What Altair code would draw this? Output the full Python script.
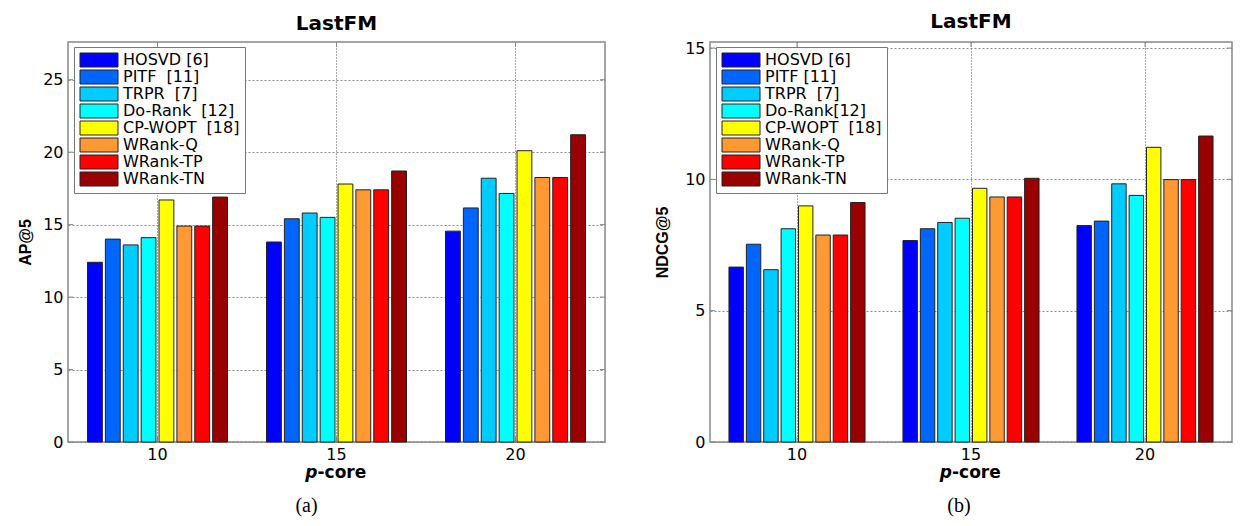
import altair as alt
import pandas as pd

groups = ["10", "15", "20"]
labels_a = ["HOSVD [6]", "PITF\u00a0 [11]", "TRPR\u00a0 [7]", "Do-Rank\u00a0 [12]",
            "CP-WOPT\u00a0 [18]", "WRank-Q", "WRank-TP", "WRank-TN"]
labels_b = ["HOSVD [6]", "PITF [11]", "TRPR\u00a0 [7]", "Do-Rank[12]",
            "CP-WOPT\u00a0 [18]", "WRank-Q", "WRank-TP", "WRank-TN"]
colors = ["#0000FF", "#0066FF", "#00CCFF", "#00FFFF", "#FFFF00", "#FF9933", "#FF0000", "#990000"]

# AP@5 per p-core group (10, 15, 20)
ap5_10 = [12.4, 14.0, 13.6, 14.1, 16.7, 14.9, 14.9, 16.9]
ap5_15 = [13.8, 15.4, 15.8, 15.5, 17.8, 17.4, 17.4, 18.7]
ap5_20 = [14.55, 16.15, 18.2, 17.15, 20.1, 18.25, 18.25, 21.2]
# NDCG@5 per p-core group
ndcg5_10 = [6.66, 7.53, 6.56, 8.12, 8.99, 7.88, 7.88, 9.12]
ndcg5_15 = [7.67, 8.12, 8.36, 8.52, 9.66, 9.33, 9.33, 10.04]
ndcg5_20 = [8.24, 8.41, 9.83, 9.39, 11.22, 9.99, 9.99, 11.65]

ap_ticks = [0, 5, 10, 15, 20, 25]
ndcg_ticks = [0, 5, 10, 15]
chart_title = "LastFM"
xtitle_parts = ["p", "-core"]
captions = ["(a)", "(b)"]

H = 400
# wide rectangle swatch: size 196 -> unit = 7px, spans 0..38px from entry start
SYMBOL = "M-1,-1L4.43,-1L4.43,1L-1,1Z"


def panel(vals_by_group, labels, ytitle, ymax, yticks, width, caption, cap_dx, tpad):
    rows = []
    for g, vals in zip(groups, vals_by_group):
        for lab, v in zip(labels, vals):
            rows.append({"core": g, "method": lab, "value": v})
    df = pd.DataFrame(rows)

    xscale = alt.Scale(domain=groups, paddingInner=0.218, paddingOuter=0.109)
    yscale = alt.Scale(domain=[0, ymax], nice=False, zero=True)

    bars = alt.Chart(df).mark_bar(stroke="#222", strokeWidth=1).encode(
        x=alt.X("core:N", sort=groups, scale=xscale,
                axis=alt.Axis(title=None, labelAngle=0, grid=True, gridDash=[1, 2],
                              gridColor="#444", gridOpacity=0.9, bandPosition=0.5,
                              ticks=False, domain=False, labelFont="DejaVu Sans",
                              labelFontSize=16, labelColor="black", labelPadding=4)),
        xOffset=alt.XOffset("method:N", sort=labels,
                            scale=alt.Scale(domain=labels, paddingInner=0.17, paddingOuter=0)),
        y=alt.Y("value:Q", scale=yscale,
                axis=alt.Axis(values=yticks, title=ytitle, grid=True, gridDash=[2, 2],
                              gridColor="#888", ticks=False, domain=False,
                              labelFont="DejaVu Sans", labelFontSize=16, labelColor="black",
                              labelPadding=5, titleFont="Liberation Sans", titleFontSize=16,
                              titleFontWeight="bold", titleColor="black", titlePadding=tpad)),
        color=alt.Color("method:N", sort=labels,
                        scale=alt.Scale(domain=labels, range=colors),
                        legend=alt.Legend(orient="none", legendX=6, legendY=5, title=None,
                                          symbolType=SYMBOL, symbolSize=196,
                                          labelFont="DejaVu Sans", labelFontSize=16,
                                          labelColor="black", padding=5, rowPadding=-4,
                                          strokeColor="#777", fillColor="white",
                                          labelOffset=28, symbolStrokeColor="#222",
                                          symbolStrokeWidth=1, symbolOpacity=1)),
    )

    ydf = pd.DataFrame({"value": yticks})
    yt_left = alt.Chart(ydf).mark_rule(color="#888").encode(
        y=alt.Y("value:Q"), x=alt.value(0), x2=alt.value(5))
    yt_right = alt.Chart(ydf).mark_rule(color="#888").encode(
        y=alt.Y("value:Q"), x=alt.value(width - 5), x2=alt.value(width))
    xdf = pd.DataFrame({"core": groups})
    xt_bot = alt.Chart(xdf).mark_rule(color="#888").encode(
        x=alt.X("core:N", sort=groups), y=alt.value(H - 5), y2=alt.value(H))
    xt_top = alt.Chart(xdf).mark_rule(color="#888").encode(
        x=alt.X("core:N", sort=groups), y=alt.value(0), y2=alt.value(5))

    p_txt = alt.Chart(pd.DataFrame({"t": [xtitle_parts[0]]})).mark_text(
        font="DejaVu Sans", fontSize=17, fontWeight="bold", fontStyle="italic",
        align="right", baseline="alphabetic", color="black").encode(
        text="t:N", x=alt.value(width / 2 - 19), y=alt.value(H + 36))
    core_txt = alt.Chart(pd.DataFrame({"t": [xtitle_parts[1]]})).mark_text(
        font="DejaVu Sans", fontSize=17, fontWeight="bold",
        align="left", baseline="alphabetic", color="black").encode(
        text="t:N", x=alt.value(width / 2 - 19), y=alt.value(H + 36))
    cap_txt = alt.Chart(pd.DataFrame({"t": [caption]})).mark_text(
        font="Liberation Serif", fontSize=20, align="center", baseline="alphabetic",
        color="black").encode(
        text="t:N", x=alt.value(width / 2 + cap_dx), y=alt.value(H + 70))

    return alt.layer(bars, yt_left, yt_right, xt_bot, xt_top, p_txt, core_txt, cap_txt).properties(
        width=width, height=H,
        title=alt.TitleParams(chart_title, font="DejaVu Sans", fontSize=20, fontWeight="bold",
                              color="black", anchor="middle", frame="group", offset=8),
    )


left = panel([ap5_10, ap5_15, ap5_20], labels_a, "AP@5", 27.6, ap_ticks, 537, captions[0], -30, 9)
right = panel([ndcg5_10, ndcg5_15, ndcg5_20], labels_b, "NDCG@5", 15.23, ndcg_ticks, 522, captions[1], -12, 14)

chart = alt.hconcat(left, right, spacing=46).resolve_scale(
    color="independent", x="independent", y="independent", xOffset="independent"
).resolve_legend(color="independent").properties(
    padding={"left": 8, "top": 3, "right": 0, "bottom": 0},
    background="white",
).configure_view(stroke="#888", strokeWidth=1.5)

chart.save("out.html", embed_options={"renderer": "svg", "actions": False})
